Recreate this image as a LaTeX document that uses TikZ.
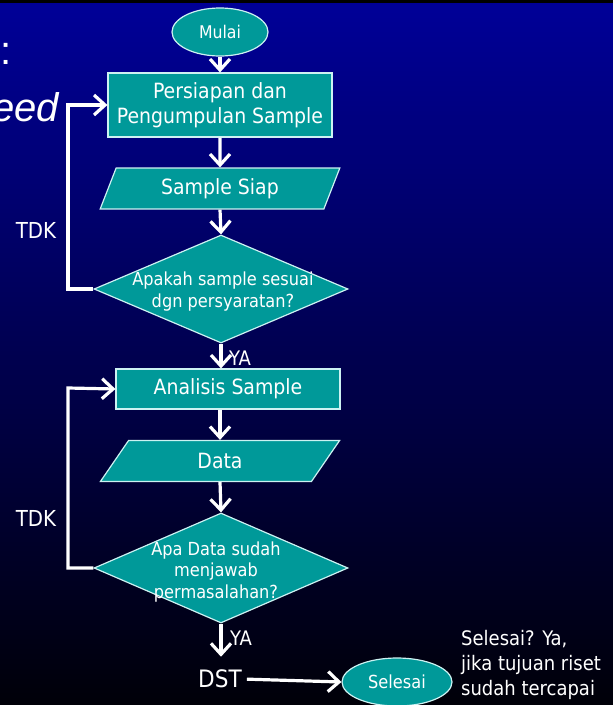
\documentclass[tikz,border=0pt]{standalone}
\usepackage{fontspec}
\setmainfont{DejaVu Sans Condensed}
\newfontfamily\arialfont{Liberation Sans}
\usetikzlibrary{shapes.geometric,arrows.meta}
\definecolor{tealfill}{HTML}{009999}
\definecolor{edgecol}{HTML}{CCF2F2}
\definecolor{bgtop}{HTML}{000098}
\definecolor{bgmid}{HTML}{000072}
\definecolor{bgbot}{HTML}{000008}
\tikzset{
  shapebase/.style={fill=tealfill, draw=edgecol, line width=1.2pt, text=white, inner sep=0pt, align=center},
  termbox/.style={shapebase, ellipse},
  procbox/.style={shapebase, rectangle, minimum width=224pt},
  iobox/.style={shapebase, trapezium, trapezium left angle=66, trapezium right angle=114, trapezium stretches=true, minimum width=240pt, minimum height=41pt},
  decbox/.style={shapebase, diamond, minimum width=254pt},
  plaintext/.style={text=white, inner sep=0pt, align=center},
  arr/.style={white, line width=3.2pt, -{Straight Barb[length=11pt,width=20pt]}},
  loopline/.style={white, line width=3.2pt, line join=miter}
}
\begin{document}
\begin{tikzpicture}[x=1pt,y=-1pt]
\useasboundingbox (0,0) rectangle (613,705);
\shade[top color=bgtop, middle color=bgmid, bottom color=bgbot] (0,0) rectangle (613,705);
\fill[black] (0,0) rectangle (613,3);

% clipped slide text
\node[plaintext, anchor=base west, font=\arialfont\fontsize{40}{44}\selectfont] (colon) at (0,64) {:};
\node[plaintext, anchor=base east, font=\arialfont\itshape\fontsize{40}{44}\selectfont] (eed) at (59,121) {eed};

% shapes
\node[termbox, minimum width=96pt, minimum height=48pt, font=\fontsize{17.5}{21}\selectfont] (mulai) at (220,32) {Mulai};
\node[procbox, minimum height=64pt, font=\fontsize{21}{25}\selectfont] (b1) at (220,105) {Persiapan dan\\Pengumpulan Sample};
\node[iobox, font=\fontsize{21}{25}\selectfont] (s1) at (220,188.5) {Sample Siap};
\node[decbox, minimum height=108pt] (d1) at (221,289) {};
\node[plaintext, font=\fontsize{18}{22}\selectfont] (d1t) at (223,292) {Apakah sample sesuai\\dgn persyaratan?};
\node[procbox, minimum height=40pt, font=\fontsize{21}{25}\selectfont] (b2) at (228,389) {Analisis Sample};
\node[iobox, font=\fontsize{21}{25}\selectfont] (s2) at (220,461) {Data};
\node[decbox, minimum height=110pt] (d2) at (221,568) {};
\node[plaintext, font=\fontsize{18}{21.5}\selectfont] (d2t) at (216,572) {Apa Data sudah\\menjawab\\permasalahan?};
\node[plaintext, font=\fontsize{24}{28}\selectfont] (dst) at (220,679) {DST};
\node[termbox, minimum width=110pt, minimum height=48pt, font=\fontsize{18}{21}\selectfont] (sel) at (397,682) {Selesai};
\node[plaintext, anchor=west, align=left, font=\fontsize{20}{25}\selectfont] (note) at (461,665) {Selesai? Ya,\\jika tujuan riset\\sudah tercapai};

% labels
\node[plaintext, font=\fontsize{22}{26}\selectfont] (tdk1) at (36,230) {TDK};
\node[plaintext, font=\fontsize{22}{26}\selectfont] (tdk2) at (36,518) {TDK};
\node[plaintext, anchor=west, font=\fontsize{20}{24}\selectfont] (ya1) at (229,358) {YA};
\node[plaintext, anchor=west, font=\fontsize{20}{24}\selectfont] (ya2) at (230,638) {YA};

% loop corners
\coordinate (l1) at (68,105);
\coordinate (l2) at (68,388);

% connectors
\draw[arr] (mulai.south) -- (b1.north);
\draw[arr] (b1.south) -- (s1.north);
\draw[arr] (s1.south) -- (d1.north);
\draw[arr] (d1.south) -- (d1.south |- b2.north);
\draw[arr] (s2.north |- b2.south) -- (s2.north);
\draw[arr] (s2.south) -- (d2.north);
\draw[arr, shorten >=13pt] (d2.south) -- (d2.south |- dst.north);
\draw[arr, shorten <=5pt] (dst.east) -- (sel.west);
\draw[loopline, arr] (d1.west) -| (l1) -- (b1.west);
\draw[loopline, arr] (d2.west) -| (l2) -- (b2.west);
\end{tikzpicture}
\end{document}
